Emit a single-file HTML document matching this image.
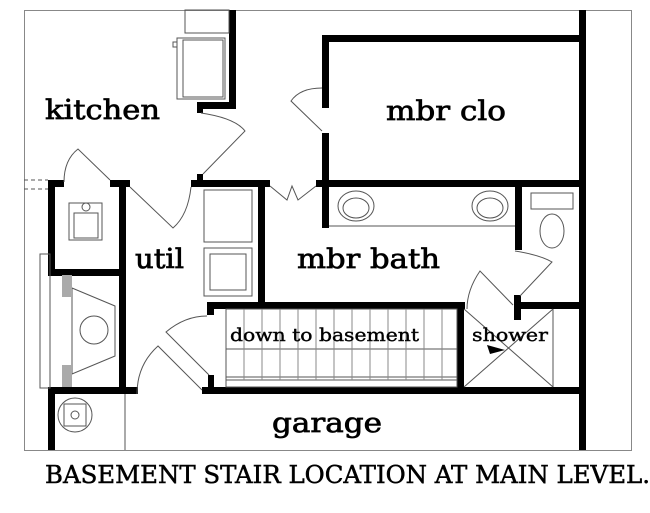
<!DOCTYPE html>
<html><head><style>body{margin:0;background:#fff}svg{display:block}</style></head><body>
<svg width="650" height="513" viewBox="0 0 650 513" xmlns="http://www.w3.org/2000/svg">
<rect width="650" height="513" fill="#fff"/>
<rect x="24.5" y="10.5" width="607" height="440" fill="none" stroke="#888" stroke-width="1"/>
<g fill="#000">
<rect x="229" y="10" width="7" height="99"/>
<rect x="197" y="102" width="39" height="7"/>
<rect x="197" y="102" width="6" height="11"/>
<rect x="322" y="35" width="7" height="73"/>
<rect x="322" y="133" width="7" height="95"/>
<rect x="322" y="35" width="261" height="7"/>
<rect x="579" y="10" width="7" height="440"/>
<rect x="48" y="180" width="16" height="7"/>
<rect x="110" y="180" width="20" height="7"/>
<rect x="191" y="180" width="79" height="7"/>
<rect x="197" y="174" width="6" height="8"/>
<rect x="316" y="180" width="270" height="7"/>
<rect x="119" y="180" width="7" height="214"/>
<rect x="48" y="180" width="7" height="96"/>
<rect x="48" y="269" width="75" height="7"/>
<rect x="258" y="180" width="7" height="129"/>
<rect x="207" y="302" width="258" height="7"/>
<rect x="207" y="302" width="7" height="13"/>
<rect x="515" y="180" width="7" height="70"/>
<rect x="515" y="302" width="70" height="7"/>
<rect x="514" y="295" width="7" height="25"/>
<rect x="457" y="302" width="7" height="86"/>
<rect x="48" y="387" width="90" height="7"/>
<rect x="202" y="387" width="384" height="7"/>
<rect x="208" y="375" width="6" height="19"/>
<rect x="48" y="387" width="7" height="63"/>
</g>
<g fill="none" stroke="#555" stroke-width="1">
<line x1="125" y1="394" x2="125" y2="450"/>
<line x1="24" y1="180" x2="48" y2="180" stroke-dasharray="4,3"/>
<line x1="24" y1="189" x2="48" y2="189" stroke-dasharray="4,3"/>
<rect x="185" y="10" width="44" height="23"/>
<rect x="177" y="38" width="48" height="61"/>
<rect x="183" y="40" width="40" height="57"/>
<rect x="173" y="42" width="4" height="5"/>
<rect x="69" y="203" width="33" height="37"/><rect x="74" y="213" width="24" height="25"/><circle cx="86" cy="207" r="4"/>
<rect x="204" y="190" width="48" height="52"/>
<rect x="204" y="248" width="48" height="48"/><rect x="210" y="254" width="36" height="36"/>
<rect x="40" y="254" width="10" height="134"/>
<polygon points="72,288 115,306 115,356 72,374"/>
<circle cx="94" cy="330" r="14"/>
<circle cx="75" cy="415" r="17"/><rect x="64" y="404" width="22" height="22"/><circle cx="75" cy="415" r="4"/>
<line x1="329" y1="226" x2="515" y2="226"/>
<ellipse cx="356" cy="206" rx="18" ry="15"/><ellipse cx="356" cy="208" rx="13" ry="10"/>
<ellipse cx="490" cy="206" rx="18" ry="15"/><ellipse cx="490" cy="208" rx="13" ry="10"/>
<rect x="531" y="193" width="42" height="16"/>
<ellipse cx="552" cy="231" rx="12" ry="17"/>
<rect x="226" y="309" width="231" height="78"/>
<line x1="226" y1="349" x2="457" y2="349"/>
<line x1="226" y1="377" x2="457" y2="377"/>
<line x1="226" y1="380" x2="457" y2="380"/>
<line x1="464" y1="309" x2="553" y2="387"/>
<line x1="553" y1="309" x2="464" y2="387"/>
<line x1="553" y1="309" x2="553" y2="387"/>
<path d="M201 113 Q235 118 245 131 L203 174"/>
<path d="M322 88 Q300 88 291 101 L322 131"/>
<path d="M64 182 Q64 160 78 149 L110 180"/>
<path d="M191 187 Q188 215 173 228 L130 187"/>
<path d="M270 186 L287 200 L292 186 L298 200 L316 186"/>
<path d="M207 316 Q185 316 166 332 L209 375"/>
<path d="M137 394 Q137 365 158 346 L202 390"/>
<path d="M515 251 Q540 255 552 262 L520 296"/>
<path d="M467 309 Q467 290 480 271 L513 305"/>
</g>
<g fill="#aaa"><rect x="62" y="275" width="10" height="22"/><rect x="62" y="365" width="10" height="22"/></g>
<g stroke="#888" fill="none"><line x1="244" y1="309" x2="244" y2="380"/><line x1="262" y1="309" x2="262" y2="380"/><line x1="280" y1="309" x2="280" y2="380"/><line x1="298" y1="309" x2="298" y2="380"/><line x1="316" y1="309" x2="316" y2="380"/><line x1="334" y1="309" x2="334" y2="380"/><line x1="352" y1="309" x2="352" y2="380"/><line x1="370" y1="309" x2="370" y2="380"/><line x1="388" y1="309" x2="388" y2="380"/><line x1="406" y1="309" x2="406" y2="380"/><line x1="424" y1="309" x2="424" y2="380"/><line x1="442" y1="309" x2="442" y2="380"/></g>
<polygon points="487,345 505,350 490,354" fill="#000"/>
<g font-family="'DejaVu Serif', 'Liberation Serif', serif" fill="#000" stroke="#000" stroke-width="0.7">
<text x="45" y="119" font-size="27" textLength="115" lengthAdjust="spacingAndGlyphs">kitchen</text>
<text x="386" y="120" font-size="27" textLength="120" lengthAdjust="spacingAndGlyphs">mbr clo</text>
<text x="135" y="268" font-size="27" textLength="49" lengthAdjust="spacingAndGlyphs">util</text>
<text x="297" y="268" font-size="27" textLength="143" lengthAdjust="spacingAndGlyphs">mbr bath</text>
<text x="230" y="341" font-size="18" textLength="189" lengthAdjust="spacingAndGlyphs" stroke-width="0.4">down to basement</text>
<text x="472" y="341" font-size="18" textLength="76" lengthAdjust="spacingAndGlyphs" stroke-width="0.4">shower</text>
<text x="272" y="432" font-size="27" textLength="110" lengthAdjust="spacingAndGlyphs">garage</text>
<text x="45" y="483" font-size="24" textLength="605" lengthAdjust="spacingAndGlyphs" stroke-width="0.5">BASEMENT STAIR LOCATION AT MAIN LEVEL.</text>
</g>
</svg>
</body></html>
